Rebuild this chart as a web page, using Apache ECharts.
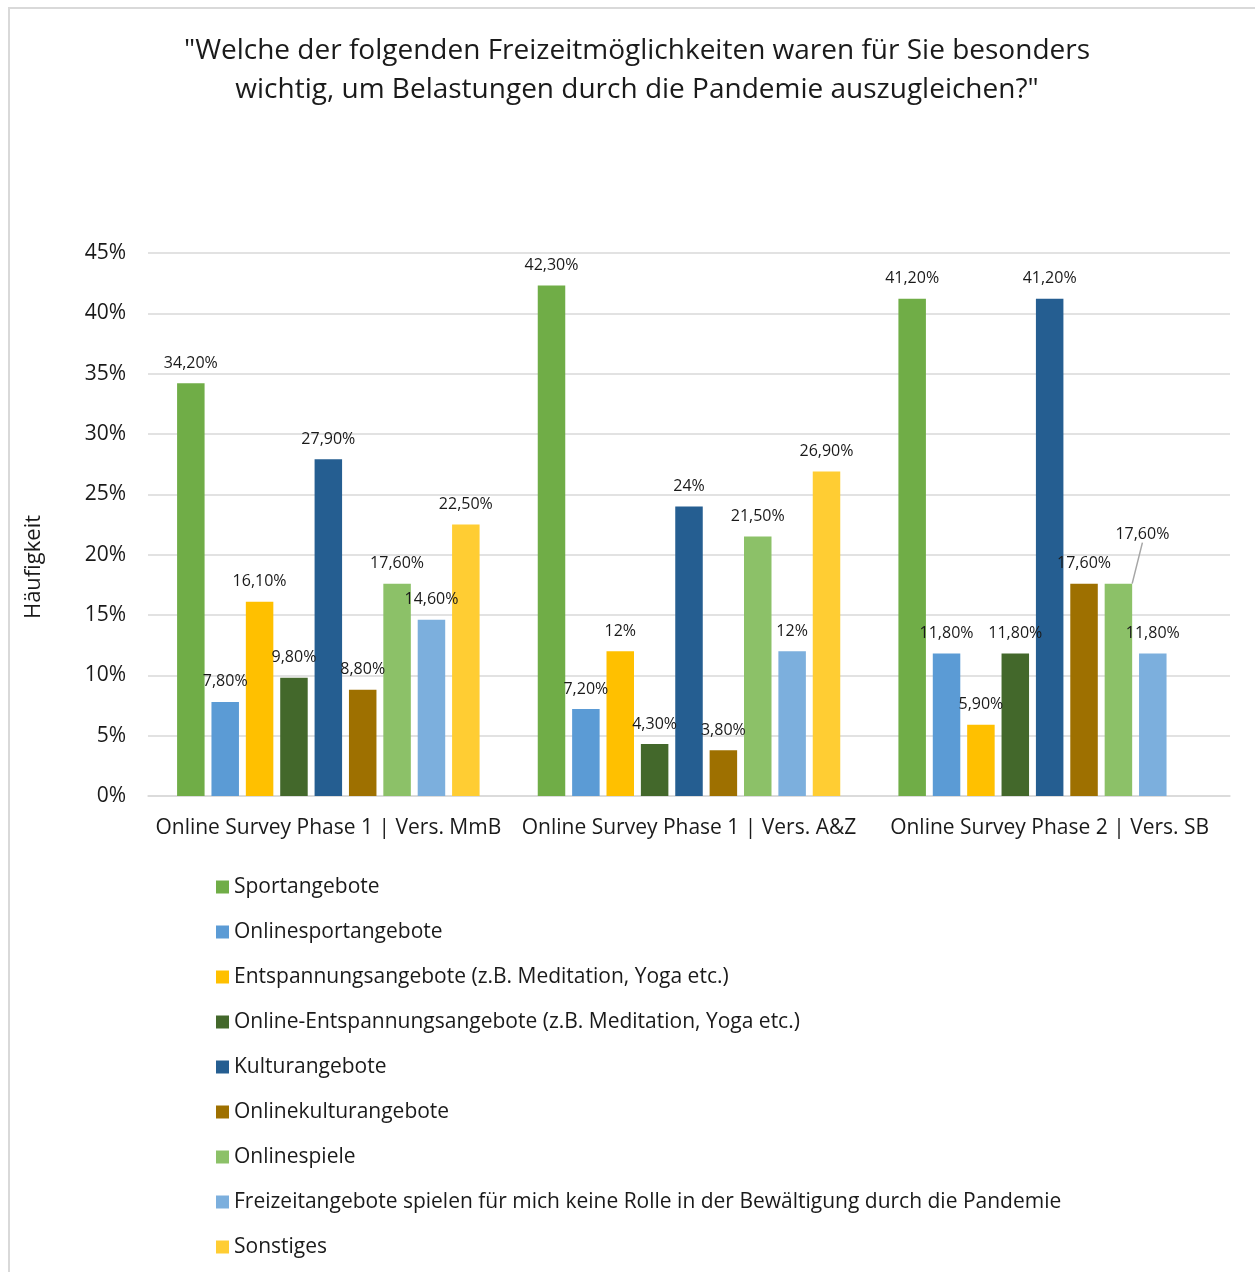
<!DOCTYPE html>
<html>
<head>
<meta charset="utf-8">
<script src="https://cdn.jsdelivr.net/npm/echarts@6/dist/echarts.min.js"></script>
<style>
  html, body { margin: 0; padding: 0; background: #fff; }
  #chart { width: 1255px; height: 1272px; }
</style>
</head>
<body>
<div id="chart"></div>
<script>
// Survey groups along the x axis
const categories = [
  'Online Survey Phase 1 | Vers. MmB',
  'Online Survey Phase 1 | Vers. A&Z',
  'Online Survey Phase 2 | Vers. SB'
];

// Answer options (one bar series each)
const seriesNames = [
  'Sportangebote',
  'Onlinesportangebote',
  'Entspannungsangebote (z.B. Meditation, Yoga etc.)',
  'Online-Entspannungsangebote (z.B. Meditation, Yoga etc.)',
  'Kulturangebote',
  'Onlinekulturangebote',
  'Onlinespiele',
  'Freizeitangebote spielen für mich keine Rolle in der Bewältigung durch die Pandemie',
  'Sonstiges'
];

// Share of respondents in percent, per survey group
const sportangebote        = [34.2, 42.3, 41.2];
const onlinesportangebote  = [7.8, 7.2, 11.8];
const entspannung          = [16.1, 12, 5.9];
const onlineEntspannung    = [9.8, 4.3, 11.8];
const kulturangebote       = [27.9, 24, 41.2];
const onlinekultur         = [8.8, 3.8, 17.6];
const onlinespiele         = [17.6, 21.5, 17.6];
const keineRolle           = [14.6, 12, 11.8];
const sonstiges            = [22.5, 26.9, null];

const seriesValues = [
  sportangebote, onlinesportangebote, entspannung, onlineEntspannung,
  kulturangebote, onlinekultur, onlinespiele, keineRolle, sonstiges
];

const colors = [
  '#70ad47', '#5b9bd5', '#ffc000', '#43682b', '#255e91',
  '#9e7000', '#8cc168', '#7cafdd', '#ffcd33'
];

// Y axis ticks
const yMin = 0, yMax = 45, yStep = 5;

const FONT = '"Open Sans", Lato, sans-serif';
const TEXT = '#1a1a1a';

function pct(v) {
  return Number.isInteger(v) ? v + '%' : v.toFixed(2).replace('.', ',') + '%';
}

const series = seriesNames.map((name, si) => {
  const s = {
    name: name,
    type: 'bar',
    barWidth: 27.5,
    barGap: '25%',
    itemStyle: { color: colors[si] },
    label: {
      show: true,
      position: 'top',
      distance: 12,
      fontFamily: FONT,
      fontSize: 16,
      color: TEXT,
      formatter: p => (p.value == null ? '' : pct(p.value))
    },
    data: seriesValues[si].map(v => v)
  };
  if (name === 'Onlinespiele') {
    // third group label sits beside the bar with a leader line
    s.data = seriesValues[si].map((v, i) => i === 2
      ? { value: v, labelLine: { show: true, lineStyle: { color: '#a6a6a6', width: 1.5 } } }
      : v);
    s.labelLayout = p => (p.dataIndex === 2 ? { dx: 24, dy: -29 } : {});
  }
  return s;
});

const chart = echarts.init(document.getElementById('chart'), null, { renderer: 'canvas' });
chart.setOption({
  animation: false,
  backgroundColor: '#fff',
  color: colors,
  title: {
    text: '"Welche der folgenden Freizeitmöglichkeiten waren für Sie besonders\nwichtig, um Belastungen durch die Pandemie auszugleichen?"',
    left: 632,
    textAlign: 'center',
    top: 27,
    textStyle: {
      fontFamily: FONT,
      fontSize: 28,
      lineHeight: 39,
      fontWeight: 'normal',
      color: TEXT
    }
  },
  graphic: [{
    type: 'rect',
    shape: { x: 9, y: 8, width: 1300, height: 1300 },
    style: { fill: 'none', stroke: '#d9d9d9', lineWidth: 2 },
    silent: true
  }],
  grid: { left: 148, right: 25, top: 253, bottom: 476, containLabel: false },
  legend: {
    orient: 'vertical',
    left: 211,
    top: 870,
    itemWidth: 13,
    itemHeight: 13,
    itemGap: 21,
    icon: 'rect',
    textStyle: { fontFamily: FONT, fontSize: 21, lineHeight: 24, color: TEXT },
    data: seriesNames
  },
  xAxis: {
    type: 'category',
    data: categories,
    axisLine: { lineStyle: { color: '#d9d9d9', width: 1.5 } },
    axisTick: { show: false },
    axisLabel: { fontFamily: FONT, fontSize: 21, lineHeight: 24, color: TEXT, margin: 20, interval: 0 }
  },
  yAxis: {
    type: 'value',
    min: yMin,
    max: yMax,
    interval: yStep,
    name: 'Häufigkeit',
    nameLocation: 'middle',
    nameGap: 103,
    nameTextStyle: { fontFamily: FONT, fontSize: 22, color: TEXT, padding: [0, 85, 0, 0] },
    axisLine: { show: false },
    axisTick: { show: false },
    splitLine: { lineStyle: { color: '#d9d9d9', width: 1.5 } },
    axisLabel: { fontFamily: FONT, fontSize: 21, color: TEXT, margin: 22, formatter: v => v + '%' }
  },
  series: series
});
</script>
</body>
</html>
